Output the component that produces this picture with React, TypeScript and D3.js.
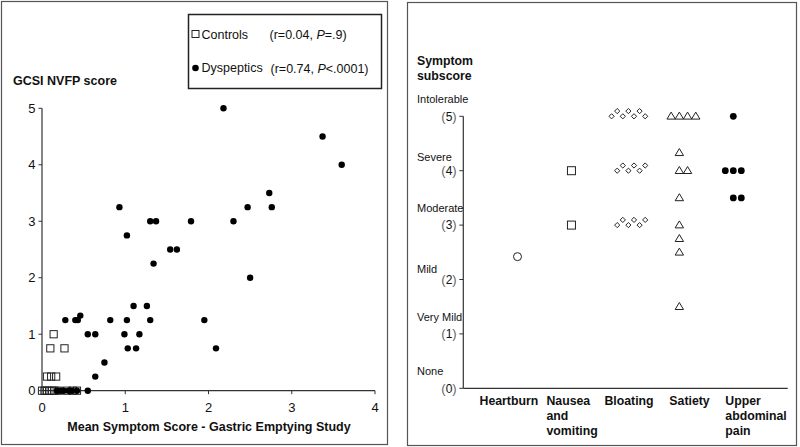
import React from "react";
import * as d3 from "d3";

// ---------- Left chart data ----------
const dyspepticsX = [2.18, 3.37, 3.6, 0.93, 1.02, 1.3, 1.37, 1.79, 2.3, 2.47, 2.73, 2.76, 1.54, 1.62, 1.34, 2.5, 1.1, 1.26, 0.28, 0.4, 0.43, 0.46, 0.82, 1.02, 1.3, 1.95, 0.55, 0.64, 0.99, 1.17, 1.03, 1.13, 2.09, 0.75, 0.64, 0.55, 0.18, 0.22, 0.26, 0.32, 0.36, 0.42];
const dyspepticsY = [5, 4.5, 4, 3.25, 2.75, 3, 3, 3, 3, 3.25, 3.5, 3.25, 2.5, 2.5, 2.25, 2, 1.5, 1.5, 1.25, 1.25, 1.25, 1.33, 1.25, 1.25, 1.25, 1.25, 1, 1, 1, 1, 0.75, 0.75, 0.75, 0.5, 0.25, 0, 0, 0, 0, 0, 0, 0];
const controlsX = [0.14, 0.1, 0.27, 0.06, 0.11, 0.17, 0, 0.03, 0.06, 0.09, 0.12, 0.15, 0.2, 0.3, 0.37, 0.42];
const controlsY = [1, 0.75, 0.75, 0.25, 0.25, 0.25, 0, 0, 0, 0, 0, 0, 0, 0, 0, 0];
const xTicks = [0, 1, 2, 3, 4];
const yTicks = [0, 1, 2, 3, 4, 5];

// ---------- Right chart data ----------
const categories = ["Heartburn", "Nausea and vomiting", "Bloating", "Satiety", "Upper abdominal pain"];
const categoryLines = [["Heartburn"], ["Nausea", "and", "vomiting"], ["Bloating"], ["Satiety"], ["Upper", "abdominal", "pain"]];
const heartburn = [2.42];
const nausea = [4, 3];
const bloating = [5, 5, 5, 5, 5, 5, 5, 4, 4, 4, 4, 4, 4, 3, 3, 3, 3, 3, 3];
const satiety = [5, 5, 5, 5, 4.33, 4, 4, 3.5, 3, 2.75, 2.5, 1.5];
const upperPain = [5, 4, 4, 4, 3.5, 3.5];
const severityLabels = ["None", "Very Mild", "Mild", "Moderate", "Severe", "Intolerable"];
const scoreTicks = [0, 1, 2, 3, 4, 5];

// layout constants
const severityOffsets = [17, 17, 10, 17, 13.5, 17];
const labelDx = [-38, -25, -21, -10, -8];

const FONT = "'Liberation Sans', Arial, Helvetica, sans-serif";

function groupOffsets(values: number[]) {
  const groups = d3.group(values.map((v, i) => ({ v, i })), (d) => d.v);
  const out: { v: number; k: number; j: number }[] = [];
  for (const [v, arr] of groups) {
    const n = arr.length;
    const base = Math.floor((n - 1) / 2);
    arr.forEach((_, j) => out.push({ v, k: j - base, j }));
  }
  return out;
}

export default function App() {
  // left scales
  const x = d3.scaleLinear().domain([0, 4]).range([42, 375]);
  const y = d3.scaleLinear().domain([0, 5]).range([390.7, 108.3]);

  // right scales
  const cx = d3.scalePoint<string>().domain(categories).range([517.5, 733.3]);
  const sy = d3.scaleLinear().domain([0, 5]).range([388.3, 116.3]);
  const axX0 = 463.3;
  const axX1 = 787.7;

  const stroke = "#222";

  const dysp = dyspepticsX.map((v, i) => [v, dyspepticsY[i]]);
  const ctrl = controlsX.map((v, i) => [v, controlsY[i]]);

  const tri = (px: number, py: number) => {
    const w = 4.2, h = 7;
    return `M${px},${py - h * 0.6}L${px + w},${py + h * 0.4}L${px - w},${py + h * 0.4}Z`;
  };
  const diamond = (px: number, py: number) => {
    const r = 2.6;
    return `M${px},${py - r}L${px + r},${py}L${px},${py + r}L${px - r},${py}Z`;
  };

  const bloatPts = groupOffsets(bloating);
  const satPts = groupOffsets(satiety);
  const painPts = groupOffsets(upperPain);
  const nauseaPts = groupOffsets(nausea);

  return (
    <div style={{ position: "absolute", left: 0, top: 0 }}>
      <svg width={800} height={447} style={{ display: "block", fontFamily: FONT }}>
        <rect x={0} y={0} width={800} height={447} fill="#fff" />
        {/* ===== LEFT PANEL ===== */}
        <rect x={1.5} y={1.5} width={386} height={443} fill="none" stroke="#555" strokeWidth={1.2} />
        {/* legend */}
        <rect x={188.5} y={14.5} width={193} height={74} fill="none" stroke="#222" strokeWidth={1.5} />
        <rect x={192} y={30.5} width={7} height={7} fill="none" stroke={stroke} strokeWidth={1} />
        <text x={201.5} y={38.5} fontSize={12.5} fill="#111">Controls</text>
        <text x={269.5} y={38.5} fontSize={12.5} fill="#111">
          (r=0.04, <tspan fontStyle="italic">P</tspan>=.9)
        </text>
        <circle cx={195.5} cy={68} r={3.3} fill="#000" />
        <text x={201.5} y={72} fontSize={12.5} fill="#111">Dyspeptics</text>
        <text x={270.5} y={72.5} fontSize={12.5} fill="#111">
          (r=0.74, <tspan fontStyle="italic">P</tspan>&lt;.0001)
        </text>

        <text x={13} y={84.5} fontSize={12.5} fontWeight="bold" fill="#111">GCSI NVFP score</text>

        {/* axes */}
        <line x1={x(0)} x2={x(0)} y1={y(5)} y2={y(0)} stroke="#333" strokeWidth={1.2} />
        <line x1={x(0)} x2={x(4)} y1={y(0)} y2={y(0)} stroke="#333" strokeWidth={1.2} />
        {yTicks.map((t) => (
          <g key={"yt" + t}>
            <line x1={x(0) - 3.5} x2={x(0)} y1={y(t)} y2={y(t)} stroke="#333" strokeWidth={1} />
            <text x={35.5} y={y(t)} dy="0.36em" textAnchor="end" fontSize={13} fill="#111">{t}</text>
          </g>
        ))}
        {xTicks.map((t) => (
          <g key={"xt" + t}>
            <line x1={x(t)} x2={x(t)} y1={y(0)} y2={y(0) + 3.5} stroke="#333" strokeWidth={1} />
            <text x={x(t)} y={411.5} textAnchor="middle" fontSize={13} fill="#111">{t}</text>
          </g>
        ))}
        <text x={209} y={430.5} textAnchor="middle" fontSize={12.5} fontWeight="bold" fill="#111">
          Mean Symptom Score - Gastric Emptying Study
        </text>

        {/* controls squares */}
        {ctrl.map(([a, b], i) => (
          <rect key={"c" + i} x={x(a) - 3.6} y={y(b) - 3.6} width={7.2} height={7.2} fill="none" stroke={stroke} strokeWidth={1} />
        ))}
        {/* dyspeptics dots */}
        {dysp.map(([a, b], i) => (
          <circle key={"d" + i} cx={x(a)} cy={y(b)} r={3.2} fill="#000" />
        ))}

        {/* ===== RIGHT PANEL ===== */}
        <rect x={407.5} y={2.5} width={389} height={443} fill="none" stroke="#555" strokeWidth={1.2} />
        <text x={417} y={65} fontSize={12.3} fontWeight="bold" fill="#111">Symptom</text>
        <text x={417} y={80} fontSize={12.3} fontWeight="bold" fill="#111">subscore</text>

        <line x1={axX0} x2={axX0} y1={sy(5)} y2={sy(0)} stroke="#333" strokeWidth={1.2} />
        <line x1={axX0} x2={axX1} y1={sy(0)} y2={sy(0)} stroke="#333" strokeWidth={1.2} />
        {scoreTicks.map((t, i) => (
          <g key={"st" + t}>
            <line x1={axX0 - 4} x2={axX0} y1={sy(t)} y2={sy(t)} stroke="#333" strokeWidth={1} />
            <text x={449} y={sy(t)} dy="0.36em" textAnchor="middle" fontSize={12} fill="#111">
              <tspan fill="#666" fontSize={13}>(</tspan>
              <tspan>{t}</tspan>
              <tspan fill="#666" fontSize={13}>)</tspan>
            </text>
            <text x={417} y={sy(t) - severityOffsets[i]} dy="0.36em" fontSize={11} fill="#111">
              {severityLabels[i]}
            </text>
          </g>
        ))}

        {/* category labels */}
        {categories.map((c, i) => (
          <text key={"cl" + c} x={(cx(c) as number) + labelDx[i]} y={405} fontSize={12.3} fontWeight="bold" fill="#111">
            {categoryLines[i].map((ln, j) => (
              <tspan key={j} x={(cx(c) as number) + labelDx[i]} dy={j === 0 ? 0 : 15}>{ln}</tspan>
            ))}
          </text>
        ))}

        {/* heartburn circle */}
        {heartburn.map((v, i) => (
          <circle key={"h" + i} cx={cx(categories[0])} cy={sy(v)} r={4} fill="none" stroke={stroke} strokeWidth={1} />
        ))}
        {/* nausea squares */}
        {nauseaPts.map((p, i) => (
          <rect key={"n" + i} x={(cx(categories[1]) as number) + p.k * 8 - 4} y={sy(p.v) - 4} width={8} height={8} fill="none" stroke={stroke} strokeWidth={1} />
        ))}
        {/* bloating diamonds */}
        {bloatPts.map((p, i) => {
          const base = cx(categories[2]) as number;
          const px = base + 3 + p.k * 5.6;
          const py = sy(p.v) - (p.j % 2 === 1 ? 5.2 : 0);
          return <path key={"b" + i} d={diamond(px, py)} fill="none" stroke={stroke} strokeWidth={1} />;
        })}
        {/* satiety triangles */}
        {satPts.map((p, i) => {
          const base = cx(categories[3]) as number;
          return <path key={"s" + i} d={tri(base + p.k * 8.2, sy(p.v))} fill="none" stroke={stroke} strokeWidth={1} />;
        })}
        {/* upper abdominal pain dots */}
        {painPts.map((p, i) => {
          const base = cx(categories[4]) as number;
          return <circle key={"u" + i} cx={base + p.k * 8} cy={sy(p.v)} r={3.4} fill="#000" />;
        })}
      </svg>
    </div>
  );
}
